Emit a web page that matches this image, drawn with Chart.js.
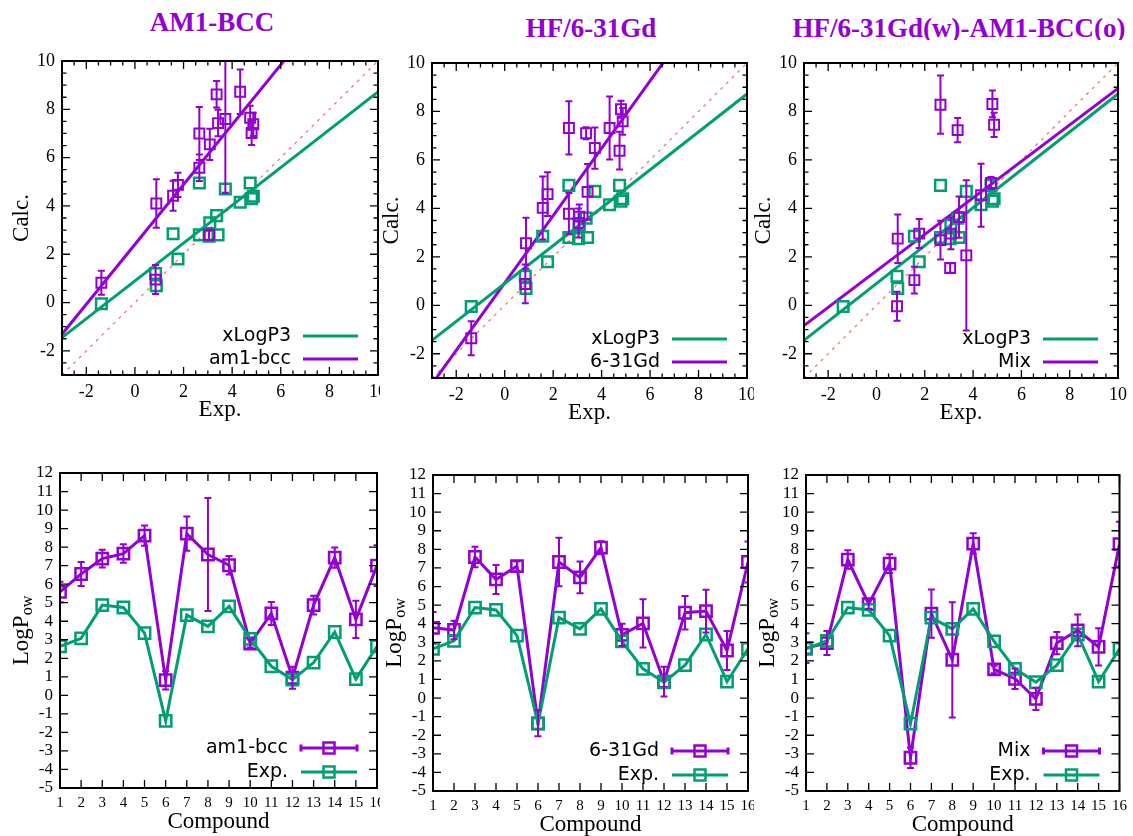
<!DOCTYPE html>
<html>
<head>
<meta charset="utf-8">
<script src="https://cdn.jsdelivr.net/npm/chart.js@4.4.1/dist/chart.umd.min.js"></script>
<style>
  body { margin:0; background:#fff; width:1133px; height:836px; position:relative; overflow:hidden; }
  canvas { position:absolute; background:#fff; }
  .ttl { position:absolute; font:bold 27px "Liberation Serif", serif; line-height:27px; color:#9400d3; transform:translateX(-50%); white-space:nowrap; }
</style>
</head>
<body>
<div class="ttl" style="left:212px;top:9px;">AM1-BCC</div>
<div class="ttl" style="left:591px;top:15px;">HF/6-31Gd</div>
<div class="ttl" style="left:959px;top:15px;">HF/6-31Gd(w)-AM1-BCC(o)</div>
<canvas id="c1"></canvas>
<canvas id="c2"></canvas>
<canvas id="c3"></canvas>
<canvas id="c4"></canvas>
<canvas id="c5"></canvas>
<canvas id="c6"></canvas>
<script>
// compounds 1..16
const compounds = [1, 2, 3, 4, 5, 6, 7, 8, 9, 10, 11, 12, 13, 14, 15, 16];
const expLogP   = [2.65, 3.08, 4.87, 4.74, 3.36, -1.38, 4.33, 3.72, 4.80, 3.05, 1.57, 0.85, 1.77, 3.42, 0.88, 2.65];
const xLogP3    = [4.95, 3.30, 4.40, 4.95, 3.60, -0.05, 4.15, 4.70, 4.30, 2.75, 2.85, 1.20, 1.80, 2.80, 0.70, 2.80];

const am1bcc    = [5.58, 6.55, 7.38, 7.65, 8.62, 0.82, 8.73, 7.60, 7.02, 2.80, 4.42, 0.95, 4.87, 7.43, 4.10, 7.00];
const am1bccErr = [0.55, 0.65, 0.48, 0.50, 0.55, 0.50, 0.92, 3.05, 0.50, 0.22, 0.62, 0.60, 0.50, 0.55, 1.00, 1.10];

const hf631gd    = [3.78, 3.66, 7.59, 6.38, 7.10, -1.36, 7.32, 6.49, 8.09, 3.40, 4.02, 0.88, 4.59, 4.68, 2.56, 7.32];
const hf631gdErr = [0.85, 0.50, 0.55, 0.78, 0.25, 0.70, 1.30, 0.85, 0.35, 0.60, 1.30, 0.80, 0.90, 1.15, 1.05, 1.10];

const mixLogP = [2.69, 2.96, 7.45, 5.05, 7.23, -3.21, 4.54, 2.06, 8.31, 1.54, 1.04, -0.04, 2.96, 3.64, 2.75, 8.28];
const mixErr  = [0.80, 0.65, 0.50, 0.25, 0.50, 0.55, 1.30, 3.10, 0.55, 0.20, 0.55, 0.60, 0.60, 0.85, 1.00, 1.20];

// linear fits, y at x = -3 and x = 10
const fitRange  = [-3, 10];
const fitXLogP3 = [-1.45, 8.72];
const fitAm1bcc = [-1.31, 14.8];
const fitHf     = [-3.25, 14.82];
const fitMix    = [-0.84, 8.95];
const identity  = [-3, 10];

const scatterTicks = [-2, 0, 2, 4, 6, 8, 10];
const logTicks = [-5, -4, -3, -2, -1, 0, 1, 2, 3, 4, 5, 6, 7, 8, 9, 10, 11, 12];

const green = '#009e73', purple = '#9400d3';
const serif = '"Liberation Serif", "Times New Roman", serif';

const pts = (xs, ys) => xs.map((x, i) => ({x: x, y: ys[i]}));

function errorBars(dsIndex, errs, color) {
  return { id: 'errorBars', afterDatasetsDraw(chart) {
    const {ctx, chartArea: a, scales: {x, y}} = chart;
    const data = chart.data.datasets[dsIndex].data;
    ctx.save();
    ctx.beginPath(); ctx.rect(a.left, a.top, a.right - a.left, a.bottom - a.top); ctx.clip();
    ctx.strokeStyle = color; ctx.lineWidth = 2;
    ctx.beginPath();
    data.forEach((p, i) => {
      if (p.y < y.min || p.y > y.max) return;   // out-of-range points are not plotted
      const px = x.getPixelForValue(p.x);
      const lo = y.getPixelForValue(p.y - errs[i]), hi = y.getPixelForValue(p.y + errs[i]);
      ctx.moveTo(px, lo); ctx.lineTo(px, hi);
      ctx.moveTo(px - 3.5, lo); ctx.lineTo(px + 3.5, lo);
      ctx.moveTo(px - 3.5, hi); ctx.lineTo(px + 3.5, hi);
    });
    ctx.stroke();
    ctx.restore();
  }};
}

function frame(xMajor, xMinor, yMajor, yMinor) {
  return { id: 'frame', afterDraw(chart) {
    const {ctx, chartArea: a, scales: {x, y}} = chart;
    ctx.save();
    ctx.strokeStyle = '#000'; ctx.lineWidth = 1.3;
    ctx.beginPath();
    const xt = (v, len) => { const p = x.getPixelForValue(v);
      ctx.moveTo(p, a.bottom); ctx.lineTo(p, a.bottom - len); ctx.moveTo(p, a.top); ctx.lineTo(p, a.top + len); };
    const yt = (v, len) => { const p = y.getPixelForValue(v);
      ctx.moveTo(a.left, p); ctx.lineTo(a.left + len, p); ctx.moveTo(a.right, p); ctx.lineTo(a.right - len, p); };
    xMajor.forEach(v => xt(v, 8)); xMinor.forEach(v => xt(v, 4.5));
    yMajor.forEach(v => yt(v, 8)); yMinor.forEach(v => yt(v, 4.5));
    ctx.stroke();
    ctx.lineWidth = 2;
    ctx.strokeRect(a.left, a.top, a.right - a.left, a.bottom - a.top);
    ctx.restore();
  }};
}

function key(items, rows, textEnd, lineStart) {
  return { id: 'key', afterDraw(chart) {
    const {ctx, chartArea: a} = chart;
    ctx.save();
    ctx.font = '19px "DejaVu Sans"'; ctx.textAlign = 'right'; ctx.textBaseline = 'middle';
    items.forEach((it, i) => {
      const yy = a.bottom - rows[i], x0 = a.right - lineStart, x1 = a.right - 20;
      ctx.fillStyle = '#000';
      ctx.fillText(it.label, a.right - textEnd, yy);
      ctx.strokeStyle = it.color; ctx.lineWidth = 3;
      ctx.beginPath(); ctx.moveTo(x0, yy); ctx.lineTo(x1, yy);
      if (it.caps) {
        ctx.moveTo(x0, yy - 3.5); ctx.lineTo(x0, yy + 3.5);
        ctx.moveTo(x1, yy - 3.5); ctx.lineTo(x1, yy + 3.5);
      }
      ctx.stroke();
      if (it.marker) {
        const m = (x0 + x1) / 2;
        ctx.lineWidth = 2.5; ctx.strokeRect(m - 5.5, yy - 5.5, 11, 11);
      }
    });
    ctx.restore();
  }};
}

function axisTitles(xText, yText, ySub, xGap, yGap) {
  return { id: 'axisTitles', afterDraw(chart) {
    const {ctx, chartArea: a} = chart;
    ctx.save();
    ctx.fillStyle = '#000'; ctx.textBaseline = 'middle';
    ctx.font = '23px ' + serif; ctx.textAlign = 'center';
    ctx.fillText(xText, (a.left + a.right) / 2, a.bottom + xGap);
    ctx.translate(a.left - yGap, (a.top + a.bottom) / 2);
    ctx.rotate(-Math.PI / 2);
    const w1 = ctx.measureText(yText).width;
    ctx.font = '16px ' + serif;
    const w2 = ySub ? ctx.measureText(ySub).width : 0;
    ctx.textAlign = 'left';
    ctx.font = '23px ' + serif;
    ctx.fillText(yText, -(w1 + w2) / 2, 0);
    if (ySub) { ctx.font = '16px ' + serif; ctx.fillText(ySub, -(w1 + w2) / 2 + w1, 6); }
    ctx.restore();
  }};
}

function makePanel(id, box, area, c) {
  const cv = document.getElementById(id);
  cv.width = box.w; cv.height = box.h;
  cv.style.left = box.left + 'px'; cv.style.top = box.top + 'px';
  const yWidth = area.L - box.left, xHeight = box.top + box.h - area.B;
  new Chart(cv, {
    type: 'scatter',
    data: { datasets: c.datasets },
    options: {
      responsive: false, animation: false, events: [],
      layout: { padding: { top: area.T - box.top, right: box.left + box.w - area.R, bottom: 0, left: 0 } },
      plugins: { legend: { display: false }, tooltip: { enabled: false } },
      scales: {
        x: { type: 'linear', min: c.xMin, max: c.xMax,
             grid: { display: false, drawTicks: false }, border: { display: false },
             ticks: { font: { family: serif, size: c.xFont }, color: '#000', padding: 6, maxRotation: 0, autoSkip: false },
             afterBuildTicks: s => { s.ticks = c.xTicks.map(v => ({ value: v })); },
             afterFit: s => { s.height = xHeight; } },
        y: { type: 'linear', min: c.yMin, max: c.yMax,
             grid: { display: false, drawTicks: false }, border: { display: false },
             ticks: { font: { family: serif, size: c.yFont }, color: '#000', padding: 7, autoSkip: false },
             afterBuildTicks: s => { s.ticks = c.yTicks.map(v => ({ value: v })); },
             afterFit: s => { s.width = yWidth; } }
      }
    },
    plugins: c.plugins
  });
}

// minor ticks every 0.5 on the correlation plots
const halfSteps = [];
for (let v = -2.5; v < 10; v += 0.5) if (v % 2 !== 0) halfSteps.push(v);

function scatterPanel(id, box, area, vals, errs, fit, label) {
  makePanel(id, box, area, {
    xMin: -3, xMax: 10, yMin: -3, yMax: 10, xTicks: scatterTicks, yTicks: scatterTicks, xFont: 18, yFont: 18,
    datasets: [
      { data: pts(expLogP, xLogP3), showLine: false, pointStyle: 'rect', pointRadius: 7.5, borderColor: green, borderWidth: 2.5, backgroundColor: 'transparent', order: 1 },
      { data: pts(expLogP, vals), showLine: false, pointStyle: 'rect', pointRadius: 7, borderColor: purple, borderWidth: 2, backgroundColor: 'transparent', order: 0, clip: 0 },
      { data: pts(fitRange, fitXLogP3), showLine: true, pointRadius: 0, borderColor: green, borderWidth: 3, order: 2 },
      { data: pts(fitRange, fit), showLine: true, pointRadius: 0, borderColor: purple, borderWidth: 3, order: 2 },
      { data: pts(fitRange, identity), showLine: true, pointRadius: 0, borderColor: '#f27a6a', borderWidth: 1.3, borderDash: [3, 5], order: 3 }
    ],
    plugins: [
      errorBars(1, errs, purple),
      frame(scatterTicks, halfSteps, scatterTicks, halfSteps),
      key([{ label: 'xLogP3', color: green }, { label: label, color: purple }], [39, 16], 87, 75),
      axisTitles('Exp.', 'Calc.', '', 35, 40)
    ]
  });
}

function compoundPanel(id, box, area, vals, errs, label) {
  makePanel(id, box, area, {
    xMin: 1, xMax: 16, yMin: -5, yMax: 12, xTicks: compounds, yTicks: logTicks, xFont: 15, yFont: 17,
    datasets: [
      { data: pts(compounds, expLogP), showLine: true, borderColor: green, borderWidth: 3, pointStyle: 'rect', pointRadius: 8, pointBorderWidth: 2.5, backgroundColor: 'transparent', pointBackgroundColor: 'transparent' },
      { data: pts(compounds, vals), showLine: true, borderColor: purple, borderWidth: 3, pointStyle: 'rect', pointRadius: 8, pointBorderWidth: 2.5, backgroundColor: 'transparent', pointBackgroundColor: 'transparent' }
    ],
    plugins: [
      errorBars(1, errs, purple),
      frame(compounds, [], logTicks, []),
      key([{ label: label, color: purple, caps: true, marker: true }, { label: 'Exp.', color: green, marker: true }], [40, 16], 89, 76),
      axisTitles('Compound', 'LogP', 'ow', 34, 38)
    ]
  });
}

scatterPanel('c1', { left: 0, top: 40, w: 420, h: 400 }, { L: 62, R: 378, T: 61, B: 375 }, am1bcc, am1bccErr, fitAm1bcc, 'am1-bcc');
scatterPanel('c2', { left: 380, top: 40, w: 420, h: 400 }, { L: 432, R: 747, T: 63, B: 378 }, hf631gd, hf631gdErr, fitHf, '6-31Gd');
scatterPanel('c3', { left: 754, top: 40, w: 379, h: 400 }, { L: 804, R: 1121, T: 63, B: 378 }, mixLogP, mixErr, fitMix, 'Mix');

compoundPanel('c4', { left: 0, top: 450, w: 420, h: 386 }, { L: 60, R: 377, T: 473, B: 788 }, am1bcc, am1bccErr, 'am1-bcc');
compoundPanel('c5', { left: 380, top: 450, w: 420, h: 386 }, { L: 433, R: 748, T: 475, B: 791 }, hf631gd, hf631gdErr, '6-31Gd');
compoundPanel('c6', { left: 754, top: 450, w: 379, h: 386 }, { L: 806, R: 1122, T: 475, B: 791 }, mixLogP, mixErr, 'Mix');
</script>
</body>
</html>
